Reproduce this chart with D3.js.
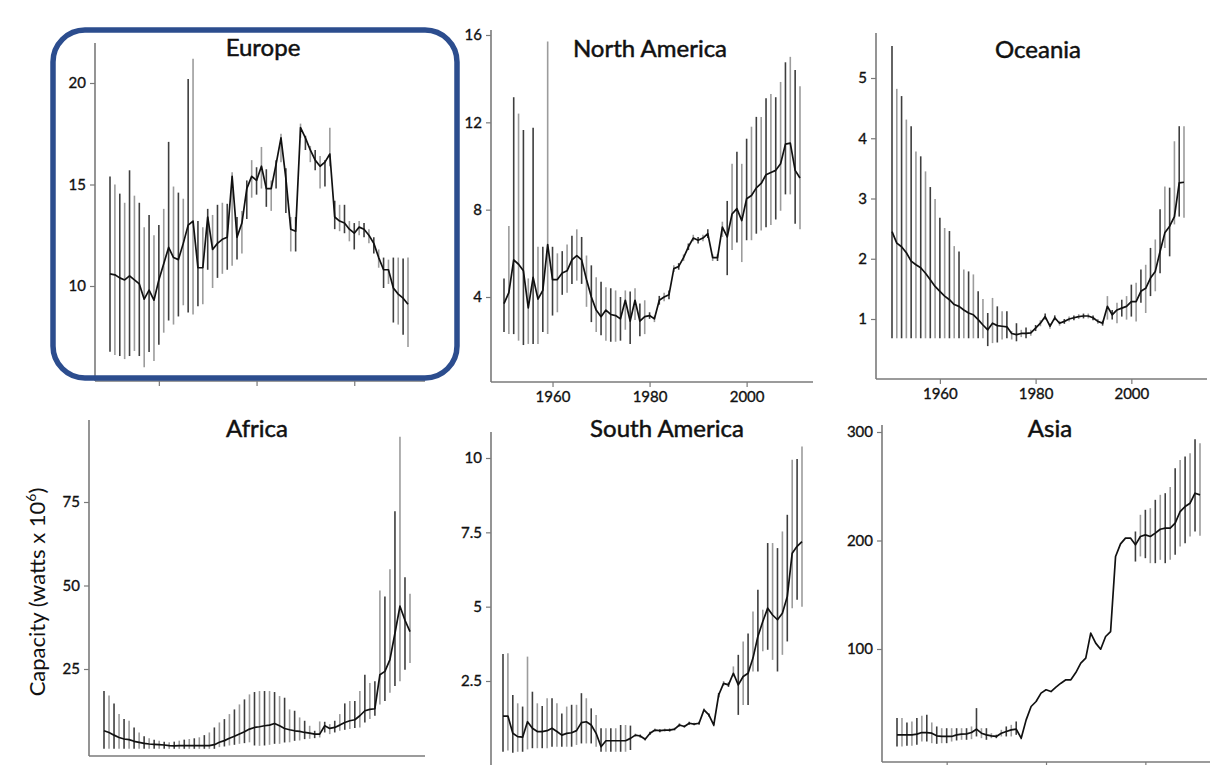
<!DOCTYPE html>
<html>
<head>
<meta charset="utf-8">
<script src="https://cdn.jsdelivr.net/npm/d3@7"></script>
<style>
  body { margin: 0; background: #fff; }
  svg { display: block; font-family: Lato, "Open Sans", sans-serif; }
</style>
</head>
<body>
<svg id="chart" width="1218" height="765"></svg>
<script>
const years = d3.range(1950, 2012);
const xTickYears = [1960, 1980, 2000];

// Europe
const europeMean = [10.6,10.55,10.4,10.3,10.5,10.3,10.1,9.35,9.8,9.3,10.3,11.1,11.9,11.4,11.3,12.1,13.0,13.2,10.9,10.9,13.4,11.8,12.1,12.3,12.4,15.4,12.4,13.1,14.8,15.4,15.2,15.9,14.8,14.8,16.0,17.3,15.3,12.8,12.7,17.8,17.3,16.7,16.2,15.9,16.1,16.5,13.4,13.2,13.1,12.8,12.6,12.9,12.8,12.5,12.1,11.4,10.8,10.8,9.9,9.6,9.4,9.1];
const europeHi = [15.4,15.0,14.55,14.1,15.7,14.45,14.1,12.9,13.5,12.5,13.0,13.8,17.1,14.9,14.6,14.3,20.2,21.2,13.2,12.9,13.8,13.5,14.0,14.1,14.05,15.6,13.4,13.7,15.2,16.2,15.85,16.85,15.75,15.2,16.2,17.5,15.8,13.4,13.4,18.0,17.4,16.9,16.7,16.4,16.2,17.8,14.2,14.0,14.0,13.2,13.1,13.2,13.1,12.8,12.4,11.8,11.4,11.3,11.4,11.4,11.35,11.4];
const europeLo = [6.76,6.6,6.55,6.4,6.55,6.8,6.55,6.0,6.75,6.3,7.1,7.7,8.3,8.1,8.5,9.05,8.7,8.6,9.0,9.1,10.8,9.9,10.4,10.6,10.8,11.0,11.3,11.6,13.3,14.35,14.5,14.8,13.9,13.7,14.8,16.1,13.6,11.7,11.7,17.3,16.7,16.1,15.7,14.8,14.9,15.9,12.8,12.7,12.6,12.2,11.8,12.5,12.4,12.1,11.6,10.9,9.9,10.1,8.2,8.1,7.6,7.0];
const europeTicks = [10, 15, 20];

// North America
const naMean = [3.7,4.2,5.7,5.5,5.2,3.5,4.9,3.9,4.3,6.4,4.8,4.8,5.1,5.2,5.7,5.9,5.7,4.8,4.0,3.4,3.1,3.4,3.2,3.15,3.0,3.85,2.9,3.85,2.9,3.1,3.15,3.0,3.85,4.0,4.1,5.3,5.4,5.8,6.3,6.7,6.6,6.7,6.9,5.8,5.8,7.2,6.75,7.8,8.05,7.5,8.5,8.65,9.0,9.2,9.6,9.7,9.8,10.1,11.0,11.05,9.8,9.45];
const naHi = [4.85,7.25,13.15,12.4,11.65,4.85,11.75,6.3,6.3,15.7,6.3,6.0,6.1,6.4,6.8,7.1,6.75,5.9,5.45,4.9,4.7,4.45,4.4,4.3,4.0,4.3,4.25,4.4,3.7,3.85,3.3,3.15,4.05,4.2,4.3,5.45,5.55,5.95,6.45,6.85,6.75,6.85,7.1,5.95,5.95,7.45,8.4,10.1,10.65,10.1,11.25,11.8,12.25,12.25,13.1,13.3,13.15,13.85,14.75,15.0,14.4,13.65];
const naLo = [2.4,2.3,2.3,2.0,1.8,1.85,1.85,1.85,2.4,2.3,3.15,3.3,4.1,4.2,4.6,4.75,4.6,3.55,2.85,2.4,2.25,2.0,1.95,1.95,2.0,2.5,1.85,2.95,2.2,2.3,3.0,2.85,3.65,3.8,3.9,5.15,5.25,5.65,6.15,6.55,6.45,6.55,6.7,5.65,5.65,6.75,5.0,6.15,6.5,5.6,6.6,6.6,6.9,7.05,7.2,7.3,7.55,7.95,8.7,8.7,7.35,7.1];
const naTicks = [4, 8, 12, 16];

// Oceania
const ocMean = [2.45,2.26,2.2,2.1,1.96,1.9,1.85,1.76,1.65,1.54,1.46,1.38,1.32,1.24,1.21,1.15,1.1,1.07,0.99,0.9,0.82,0.93,0.89,0.88,0.87,0.76,0.74,0.76,0.76,0.77,0.85,0.93,1.04,0.88,1.02,0.93,0.96,1.0,1.02,1.04,1.05,1.05,1.02,0.96,0.93,1.21,1.07,1.15,1.18,1.21,1.29,1.29,1.46,1.51,1.68,1.79,2.12,2.43,2.54,2.7,3.26,3.27];
const ocHi = [5.53,4.82,4.7,4.31,4.2,3.78,3.7,3.45,3.19,2.99,2.68,2.51,2.46,2.21,2.12,1.82,1.79,1.74,1.46,1.33,1.1,1.35,1.21,1.13,1.13,0.8,0.93,0.82,0.86,0.82,0.9,0.98,1.09,0.93,1.06,0.97,1.0,1.04,1.06,1.08,1.09,1.09,1.06,1.0,0.97,1.38,1.15,1.27,1.32,1.38,1.57,1.6,1.82,1.9,2.18,2.32,2.82,3.2,3.18,3.95,4.2,4.2];
const ocLo = [0.68,0.68,0.68,0.68,0.68,0.68,0.68,0.68,0.68,0.68,0.68,0.68,0.68,0.68,0.68,0.68,0.68,0.68,0.68,0.68,0.55,0.6,0.61,0.66,0.68,0.66,0.63,0.7,0.68,0.72,0.8,0.88,0.99,0.84,0.98,0.89,0.92,0.96,0.98,1.0,1.01,1.01,0.98,0.92,0.89,0.99,0.99,0.93,1.04,0.99,1.04,0.96,1.27,1.1,1.38,1.46,1.76,2.18,2.04,2.57,2.7,2.68];
const ocTicks = [1, 2, 3, 4, 5];

// Africa
const afMean = [6.5,6.0,5.2,4.5,4.05,3.85,3.35,3.05,2.75,2.55,2.45,2.35,2.25,2.05,2.0,2.05,2.05,2.05,2.05,2.05,2.05,2.05,2.35,3.05,3.55,4.25,4.85,5.55,6.2,7.0,7.5,7.7,8.0,8.2,8.7,8.0,7.2,6.8,6.5,6.3,6.0,5.8,5.5,5.5,8.0,7.2,7.5,8.2,9.0,9.5,9.8,11.0,12.5,12.9,13.1,23.3,24.3,27.8,35.7,43.8,39.6,36.2];
const afHi = [18.4,17.1,14.7,11.5,10.0,9.5,7.5,6.0,4.85,4.25,3.85,3.55,3.25,3.05,3.25,3.55,3.85,4.05,4.25,4.55,5.2,6.0,7.5,9.0,10.0,11.5,12.9,14.4,15.9,17.4,18.1,18.4,18.4,18.4,18.1,16.9,16.4,12.9,12.5,10.5,9.5,8.0,6.5,9.3,9.2,8.5,9.5,11.5,14.7,15.4,15.4,18.4,23.3,20.8,21.3,48.5,46.7,54.9,72.2,94.5,52.5,47.5];
const afLo = [1.1,1.1,1.1,1.1,1.1,1.1,1.1,1.1,1.1,1.1,1.1,1.1,1.1,1.1,1.1,1.1,1.1,1.1,1.1,1.1,1.1,1.1,1.1,1.6,1.8,2.1,2.3,2.6,2.8,3.05,2.1,2.0,2.1,2.3,2.6,2.6,3.0,3.05,3.5,3.6,4.0,4.1,4.3,4.5,6.0,5.5,6.0,6.5,6.8,7.0,7.3,7.5,9.0,10.0,11.0,14.4,15.4,17.9,19.9,21.3,24.8,26.8];
const afTicks = [25, 50, 75];

// South America
const saMean = [1.32,1.32,0.74,0.63,0.61,1.13,0.91,0.8,0.8,0.83,0.91,0.8,0.68,0.74,0.76,0.83,1.1,1.13,1.02,0.74,0.29,0.49,0.49,0.49,0.49,0.49,0.57,0.68,0.65,0.54,0.74,0.85,0.83,0.85,0.85,0.88,1.02,0.97,1.08,1.05,1.08,1.53,1.36,1.02,2.03,2.42,2.37,2.76,2.37,2.65,2.76,3.27,4.0,4.5,4.95,4.72,4.56,4.78,5.34,6.8,7.03,7.19];
const saHi = [3.41,3.43,2.03,1.75,1.64,3.32,2.14,1.75,1.66,1.92,1.92,1.75,1.41,1.64,1.7,1.7,2.09,1.92,1.58,1.36,0.91,0.91,0.91,0.91,1.02,1.02,1.0,0.73,0.7,0.59,0.79,0.9,0.88,0.9,0.9,0.93,1.07,1.02,1.13,1.1,1.13,1.58,1.41,1.07,2.1,2.5,2.45,2.99,3.38,3.83,4.1,4.84,5.57,4.9,7.14,7.14,6.97,7.53,8.09,9.94,9.97,10.39];
const saLo = [0.12,0.16,0.09,0.12,0.12,0.2,0.24,0.24,0.24,0.24,0.29,0.29,0.29,0.29,0.29,0.35,0.4,0.4,0.4,0.29,0.12,0.12,0.12,0.12,0.12,0.12,0.18,0.63,0.6,0.49,0.69,0.8,0.78,0.8,0.8,0.83,0.97,0.92,1.03,1.0,1.03,1.48,1.31,0.97,1.95,2.34,2.3,2.65,1.36,1.69,1.69,2.82,2.82,3.5,3.55,3.21,2.82,3.38,3.83,4.95,5.23,5.0];
const saTicks = [2.5, 5, 7.5, 10];

// Asia (no error bar where null)
const asMean = [20.9,20.9,20.9,20.9,21.5,23.0,23.0,22.4,20.0,19.4,19.4,19.4,20.9,21.5,21.8,23.0,26.1,22.4,20.9,20.0,19.4,22.4,24.0,25.5,26.1,17.8,34.7,47.0,51.6,59.3,62.4,60.8,64.8,68.5,71.6,71.6,78.3,86.9,91.6,114.6,105.4,99.8,111.5,116.1,185.3,196.9,202.2,202.2,196.0,203.7,205.2,203.7,206.8,210.4,211.4,211.4,216,226.7,231.3,234.4,243.6,242.1];
const asHi = [36.3,36.3,32.3,33.2,36.3,38.4,39.3,32.3,28.6,27.0,27.0,27.0,27.0,27.0,27.0,28.6,45.5,27.0,27.0,22.4,21.0,25.5,28.6,30.1,33.2,19.0,null,null,null,null,null,null,null,null,null,null,null,null,null,null,null,null,null,null,null,null,null,null,208.3,223.7,228.3,229.8,237.5,242.1,243.6,249.2,266.7,274.3,277.4,280.5,293.4,289.7];
const asLo = [10.1,10.1,10.8,10.8,11.7,14.7,14.7,13.2,12.6,13.2,13.2,14.7,15.7,16.3,16.3,16.9,19.4,17.8,16.3,17.8,17.8,19.4,19.4,19.4,20.9,16.5,null,null,null,null,null,null,null,null,null,null,null,null,null,null,null,null,null,null,null,null,null,null,180.6,185.3,183.7,179.1,179.1,182.2,179.1,182.2,186.8,194.5,197.5,203.7,208.3,204.3];
const asTicks = [100, 200, 300];

// Panel layout: axis box, year pixel range, two value->pixel anchors for the y scale
const panels = [
  {name: "Europe", mean: europeMean, lo: europeLo, hi: europeHi, ticks: europeTicks,
   left: 95, right: 425, top: 43, bottom: 381, xr: [110, 408], ya: [10, 286, 20, 83],
   title: [263, 56], xLabels: false, xMarks: true},
  {name: "North America", mean: naMean, lo: naLo, hi: naHi, ticks: naTicks,
   left: 491, right: 813, top: 30, bottom: 382, xr: [504, 800], ya: [4, 297, 16, 35],
   title: [650, 57], xLabels: true, xMarks: true},
  {name: "Oceania", mean: ocMean, lo: ocLo, hi: ocHi, ticks: ocTicks,
   left: 876, right: 1207, top: 33, bottom: 379, xr: [892, 1184], ya: [1, 319, 5, 78],
   title: [1038, 58], xLabels: true, xMarks: true},
  {name: "Africa", mean: afMean, lo: afLo, hi: afHi, ticks: afTicks,
   left: 89, right: 425, top: 420, bottom: 756, xr: [104, 410], ya: [25, 669, 75, 502],
   title: [257, 437], xLabels: false, xMarks: false},
  {name: "South America", mean: saMean, lo: saLo, hi: saHi, ticks: saTicks,
   left: 491, right: 820, top: 432, bottom: 768, xr: [503, 802], ya: [2.5, 681, 10, 458],
   title: [667, 437], xLabels: false, xMarks: false},
  {name: "Asia", mean: asMean, lo: asLo, hi: asHi, ticks: asTicks,
   left: 882, right: 1210, top: 425, bottom: 762, xr: [897, 1200], ya: [100, 649, 300, 432],
   title: [1050, 437], xLabels: false, xMarks: true}
];

const axisColor = "#7a7a7a";
const svg = d3.select("#chart");

function styleTickText(sel) {
  sel.attr("fill", "#111")
    .attr("stroke", "#111")
    .attr("stroke-width", 0.35)
    .attr("font-size", 15)
    .attr("font-family", "Lato, sans-serif");
}

function drawPanel(p) {
  let xScale = d3.scaleLinear()
    .domain([years[0], years[years.length - 1]])
    .range(p.xr);
  let yScale = d3.scaleLinear()
    .domain([p.ya[0], p.ya[2]])
    .range([p.ya[1], p.ya[3]]);

  let g = svg.append("g");

  // Error bars
  let bars = years.map(function(yr, i) {
    return {year: yr, i: i, lo: p.lo[i], hi: p.hi[i]};
  }).filter(function(d) {
    return d.lo != null && d.hi != null;
  });

  g.append("g")
    .selectAll("line")
    .data(bars)
    .enter()
    .append("line")
    .attr("x1", function(d) { return xScale(d.year); })
    .attr("x2", function(d) { return xScale(d.year); })
    .attr("y1", function(d) { return yScale(d.lo); })
    .attr("y2", function(d) { return yScale(d.hi); })
    .attr("stroke", function(d) { return d.i % 2 ? "#9c9c9c" : "#3e3e3e"; })
    .attr("stroke-width", 1.6);

  // Mean line
  let line = d3.line()
    .x(function(d, i) { return xScale(years[i]); })
    .y(function(d) { return yScale(d); });

  g.append("path")
    .datum(p.mean)
    .attr("d", line)
    .attr("fill", "none")
    .attr("stroke", "#111")
    .attr("stroke-width", 1.7)
    .attr("stroke-linejoin", "round");

  // Axis lines
  g.append("line")
    .attr("x1", p.left).attr("x2", p.left)
    .attr("y1", p.top).attr("y2", p.bottom)
    .attr("stroke", axisColor)
    .attr("stroke-width", 1.6);
  g.append("line")
    .attr("x1", p.left).attr("x2", p.right)
    .attr("y1", p.bottom).attr("y2", p.bottom)
    .attr("stroke", axisColor)
    .attr("stroke-width", 1.6);

  // Y axis ticks
  let yAxisGroup = g.append("g")
    .attr("transform", "translate(" + p.left + ",0)")
    .call(d3.axisLeft(yScale)
      .tickValues(p.ticks)
      .tickSize(5)
      .tickPadding(4)
      .tickFormat(function(d) { return String(d); }));
  yAxisGroup.select(".domain").remove();
  yAxisGroup.selectAll(".tick line").attr("stroke", axisColor).attr("stroke-width", 1.2);
  styleTickText(yAxisGroup.selectAll("text"));

  // X axis ticks
  if (p.xMarks) {
    let xAxisGroup = g.append("g")
      .attr("transform", "translate(0," + p.bottom + ")")
      .call(d3.axisBottom(xScale)
        .tickValues(xTickYears)
        .tickSize(5)
        .tickPadding(4)
        .tickFormat(function(d) { return p.xLabels ? String(d) : ""; }));
    xAxisGroup.select(".domain").remove();
    xAxisGroup.selectAll(".tick line").attr("stroke", axisColor).attr("stroke-width", 1.2);
    styleTickText(xAxisGroup.selectAll("text"));
  }

  // Title
  g.append("text")
    .text(p.name)
    .attr("x", p.title[0])
    .attr("y", p.title[1])
    .attr("text-anchor", "middle")
    .attr("font-size", 24)
    .attr("fill", "#111")
    .attr("stroke", "#111")
    .attr("stroke-width", 0.5);
}

panels.forEach(drawPanel);

// Shared y label
let yLabel = svg.append("text")
  .attr("transform", "translate(45,592) rotate(-90)")
  .attr("text-anchor", "middle")
  .attr("font-size", 22)
  .attr("fill", "#111");
yLabel.append("tspan").text("Capacity (watts x 10");
yLabel.append("tspan").text("6").attr("font-size", 14).attr("dy", -9);
yLabel.append("tspan").text(")").attr("dy", 9);

// Highlight box round Europe
svg.append("rect")
  .attr("x", 53)
  .attr("y", 30)
  .attr("width", 404)
  .attr("height", 348)
  .attr("rx", 32)
  .attr("ry", 32)
  .attr("fill", "none")
  .attr("stroke", "#2c4d8e")
  .attr("stroke-width", 5.5);
</script>
</body>
</html>
